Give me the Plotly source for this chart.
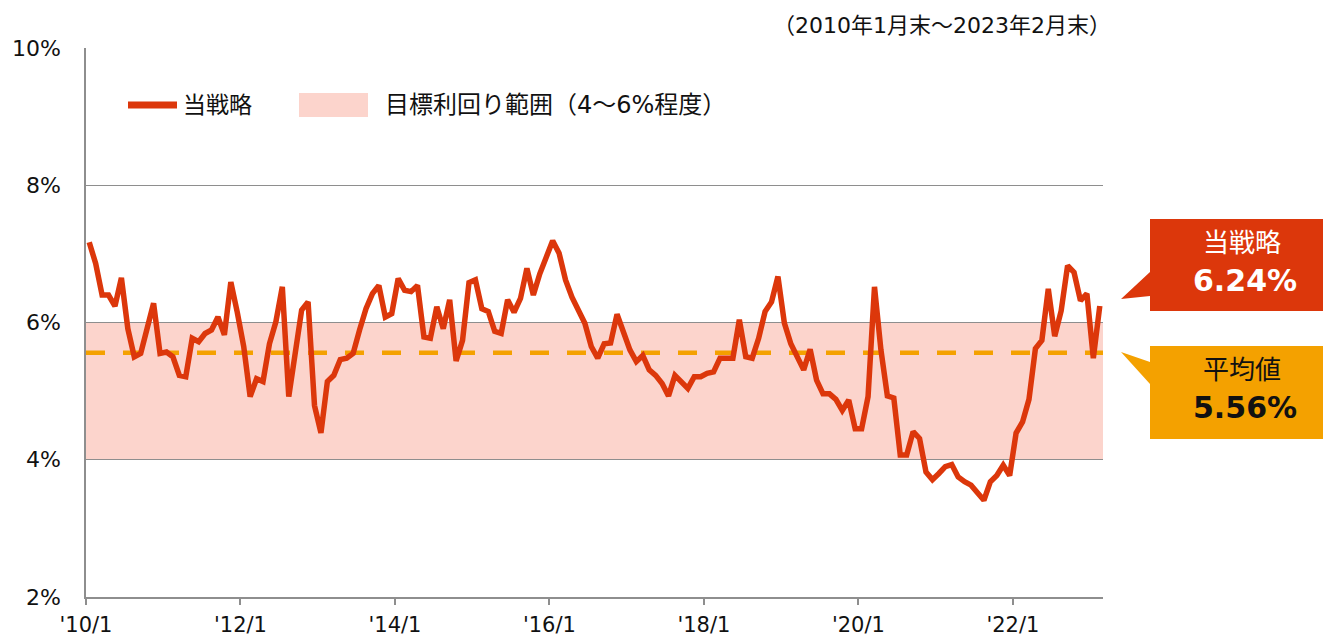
import plotly.graph_objects as go

# ---- data -------------------------------------------------------------
yields = [
    7.17, 6.86, 6.40, 6.40, 6.24, 6.65, 5.91, 5.50, 5.55, 5.91, 6.28, 5.55,
    5.57, 5.50, 5.23, 5.21, 5.77, 5.72, 5.84, 5.89, 6.08, 5.82, 6.59, 6.15,
    5.65, 4.92, 5.18, 5.14, 5.69, 6.01, 6.52, 4.92, 5.55, 6.18, 6.30, 4.79,
    4.39, 5.14, 5.23, 5.46, 5.48, 5.55, 5.89, 6.20, 6.42, 6.54, 6.08, 6.13,
    6.64, 6.47, 6.45, 6.54, 5.79, 5.77, 6.23, 5.91, 6.33, 5.44, 5.74, 6.58,
    6.62, 6.20, 6.16, 5.87, 5.84, 6.33, 6.15, 6.35, 6.79, 6.40, 6.71, 6.98,
    7.19, 7.01, 6.62, 6.37, 6.16, 5.99, 5.65, 5.48, 5.69, 5.70, 6.12, 5.85,
    5.60, 5.43, 5.52, 5.31, 5.23, 5.11, 4.93, 5.23, 5.14, 5.04, 5.21, 5.21,
    5.26, 5.28, 5.48, 5.47, 5.48, 6.04, 5.50, 5.48, 5.77, 6.16, 6.30, 6.67,
    5.99, 5.69, 5.48, 5.31, 5.61, 5.16, 4.96, 4.96, 4.88, 4.72, 4.87, 4.45,
    4.45, 4.92, 6.52, 5.60, 4.93, 4.90, 4.07, 4.07, 4.41, 4.31, 3.82, 3.71,
    3.80, 3.90, 3.93, 3.75, 3.68, 3.63, 3.52, 3.41, 3.68, 3.77, 3.92, 3.77,
    4.39, 4.55, 4.88, 5.62, 5.74, 6.49, 5.80, 6.17, 6.83, 6.73, 6.32, 6.42,
    5.48, 6.24,
]
average = 5.56
latest = 6.24
band_low, band_high = 4.0, 6.0
tick_labels = ["'10/1", "'12/1", "'14/1", "'16/1", "'18/1", "'20/1", "'22/1"]
y_ticks = [2, 4, 6, 8, 10]
y_tick_text = ["2%", "4%", "6%", "8%", "10%"]
series_name = "当戦略"
band_name = "目標利回り範囲（4～6%程度）"
avg_name = "平均値"
period_note = "（2010年1月末～2023年2月末）"

# ---- layout constants (page pixel coordinates) -------------------------
OFF = 8                      # default body margin of the html page
W, H = 1331 - OFF, 640 - OFF  # figure size
L, R, T, B = 86, 1103, 48, 597
RED = "#DC370B"
ORANGE = "#F4A100"
BAND = "#FCD4CC"
GRID = "#8E8E8E"
FONT = "DejaVu Sans, Noto Sans CJK JP, sans-serif"


def px(x):
    return (x - L) / (R - L)


def py(y):
    return (B - y) / (B - T)


n = len(yields)
xs = list(range(n))
tick_vals = [i * 24 - 0.5 for i in range(len(tick_labels))]

fig = go.Figure()

# target band
fig.add_shape(type="rect", xref="x", yref="y", x0=-0.5, x1=n - 0.5,
              y0=band_low, y1=band_high, fillcolor=BAND, line_width=0,
              layer="below")

# average dashed line
fig.add_trace(go.Scatter(x=[-0.5, n - 0.5], y=[average, average], mode="lines",
                         line=dict(color=ORANGE, width=4.5, dash="19px,18px"),
                         hoverinfo="skip", showlegend=False))

# strategy line
fig.add_trace(go.Scatter(x=xs, y=yields, mode="lines",
                         line=dict(color=RED, width=5.5, shape="linear"),
                         name=series_name, showlegend=False))

# manual legend
fig.add_shape(type="line", xref="paper", yref="paper",
              x0=px(128), x1=px(177), y0=py(105), y1=py(105),
              line=dict(color=RED, width=7))
fig.add_annotation(xref="paper", yref="paper", x=px(181), y=py(105),
                   text=series_name, showarrow=False, xanchor="left",
                   yanchor="middle", font=dict(family=FONT, size=23, color="#111"))
fig.add_shape(type="rect", xref="paper", yref="paper",
              x0=px(299), x1=px(368), y0=py(117), y1=py(93),
              fillcolor=BAND, line_width=0)
fig.add_annotation(xref="paper", yref="paper", x=px(383), y=py(105),
                   text=band_name, showarrow=False, xanchor="left",
                   yanchor="middle", font=dict(family=FONT, size=24, color="#111"))

# period note
fig.add_annotation(xref="paper", yref="paper", x=px(1113), y=py(25),
                   text=period_note, showarrow=False, xanchor="right",
                   yanchor="middle", font=dict(family=FONT, size=22, color="#111"))


def callout(x0, x1, y0, y1, tip, wedge_top, wedge_bot, color):
    path = (f"M {px(x0)} {py(y0)} L {px(x1)} {py(y0)} L {px(x1)} {py(y1)} "
            f"L {px(x0)} {py(y1)} L {px(x0)} {py(wedge_bot)} "
            f"L {px(tip[0])} {py(tip[1])} L {px(x0)} {py(wedge_top)} Z")
    fig.add_shape(type="path", xref="paper", yref="paper", path=path,
                  fillcolor=color, line_width=0)


callout(1150, 1340, 219, 311, (1121, 299), 272, 296, RED)
callout(1150, 1340, 346, 439, (1121, 352), 362, 384, ORANGE)

fig.add_annotation(xref="paper", yref="paper", x=px(1242), y=py(243),
                   text=series_name, showarrow=False, xanchor="center",
                   yanchor="middle", font=dict(family=FONT, size=26, color="white"))
fig.add_annotation(xref="paper", yref="paper", x=px(1245), y=py(280),
                   text=f"<b>{latest:.2f}%</b>", showarrow=False, xanchor="center",
                   yanchor="middle", font=dict(family=FONT, size=30, color="white"))
fig.add_annotation(xref="paper", yref="paper", x=px(1242), y=py(370),
                   text=avg_name, showarrow=False, xanchor="center",
                   yanchor="middle", font=dict(family=FONT, size=26, color="#111"))
fig.add_annotation(xref="paper", yref="paper", x=px(1245), y=py(407),
                   text=f"<b>{average:.2f}%</b>", showarrow=False, xanchor="center",
                   yanchor="middle", font=dict(family=FONT, size=30, color="#111"))

fig.update_layout(
    width=W, height=H, autosize=False,
    margin=dict(l=L - OFF, r=W - (R - OFF), t=T - OFF, b=H - (B - OFF),
                pad=0, autoexpand=False),
    paper_bgcolor="white", plot_bgcolor="white",
    showlegend=False,
    font=dict(family=FONT, size=22, color="#111"),
)
fig.update_xaxes(range=[-0.5, n - 0.5], tickmode="array", tickvals=tick_vals,
                 ticktext=tick_labels, showgrid=False, zeroline=False,
                 showline=True, linecolor=GRID, linewidth=1.5,
                 ticks="outside", ticklen=6, tickcolor=GRID, tickwidth=1.5,
                 tickfont=dict(family=FONT, size=21, color="#111"),
                 ticklabelstandoff=2, automargin=False)
fig.update_yaxes(range=[2, 10], tickmode="array", tickvals=y_ticks,
                 ticktext=y_tick_text, showgrid=True, gridcolor=GRID,
                 gridwidth=1.2, zeroline=False, showline=True, linecolor=GRID,
                 linewidth=1.5, ticks="", tickfont=dict(family=FONT, size=22, color="#111"),
                 ticklabelstandoff=19, automargin=False)

fig.write_html("out.html")
